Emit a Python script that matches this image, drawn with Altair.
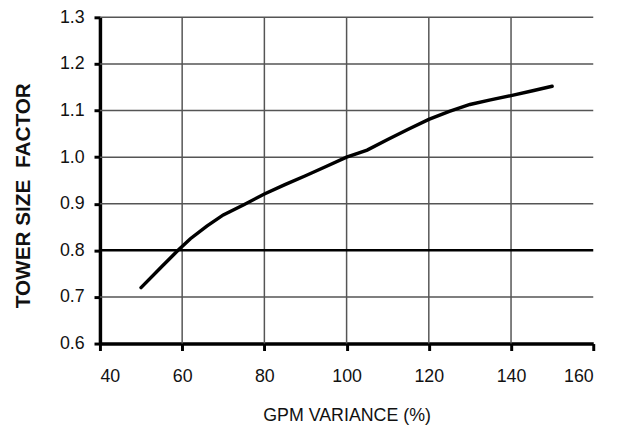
import altair as alt
import pandas as pd

# Curve
gpm_variance = [50, 55, 59, 62, 66, 70, 75, 80, 85, 90, 95, 100, 105, 110, 115, 120, 125, 130, 135, 140, 145, 150]
tower_factor = [0.72, 0.765, 0.80, 0.825, 0.852, 0.876, 0.898, 0.921, 0.941, 0.960, 0.980, 1.000,
                1.015, 1.038, 1.060, 1.081, 1.098, 1.113, 1.123, 1.132, 1.142, 1.152]

x_ticks = [40, 60, 80, 100, 120, 140, 160]
y_ticks = [0.6, 0.7, 0.8, 0.9, 1.0, 1.1, 1.2, 1.3]
x_grid = [60, 80, 100, 120, 140]
y_grid = [0.7, 0.9, 1.0, 1.1, 1.2, 1.3]
y_highlight = [0.8]

df = pd.DataFrame({"x": gpm_variance, "y": tower_factor})

x_scale = alt.Scale(domain=[40, 160], nice=False, zero=False)
y_scale = alt.Scale(domain=[0.6, 1.3], nice=False, zero=False)

vgrid = alt.Chart(pd.DataFrame({"x": x_grid})).mark_rule(color="#555555", strokeWidth=1.5).encode(
    x=alt.X("x:Q", scale=x_scale)
)
hgrid = alt.Chart(pd.DataFrame({"y": y_grid})).mark_rule(color="#555555", strokeWidth=1.5).encode(
    y=alt.Y("y:Q", scale=y_scale)
)
hl = alt.Chart(pd.DataFrame({"y": y_highlight})).mark_rule(color="#000000", strokeWidth=2.5).encode(
    y=alt.Y("y:Q", scale=y_scale)
)

line = alt.Chart(df).mark_line(color="#000000", strokeWidth=3.5, strokeCap="round").encode(
    x=alt.X("x:Q", scale=x_scale,
            axis=alt.Axis(values=x_ticks, title="GPM VARIANCE (%)", grid=False,
                          titleFontWeight="normal", titleFontSize=18,
                          titleBaseline="alphabetic", titleY=78,
                          labelFontSize=18, labelPadding=17, tickSize=7)),
    y=alt.Y("y:Q", scale=y_scale,
            axis=alt.Axis(values=y_ticks, format=".1f", title="TOWER SIZE\u00a0 FACTOR", grid=False,
                          titleFontWeight="bold", titleFontSize=21, titleX=-77, titleY=180,
                          titleAngle=270, titleAlign="center", titleBaseline="middle",
                          labelFontSize=18, labelPadding=10, tickSize=6)),
)

chart = alt.layer(vgrid, hgrid, hl, line).properties(
    width=499, height=330,
    autosize=alt.AutoSizeParams(type="none"),
    padding={"left": 93, "top": 7, "right": 22, "bottom": 85},
).configure_view(stroke=None).configure_axis(
    labelFont="Liberation Sans", labelColor="#111111",
    titleFont="Liberation Sans", titleColor="#111111",
    domainColor="#000000", domainWidth=3.5, tickColor="#000000", tickWidth=3,
)

chart.save("out.html", embed_options={"renderer": "svg", "actions": False})
